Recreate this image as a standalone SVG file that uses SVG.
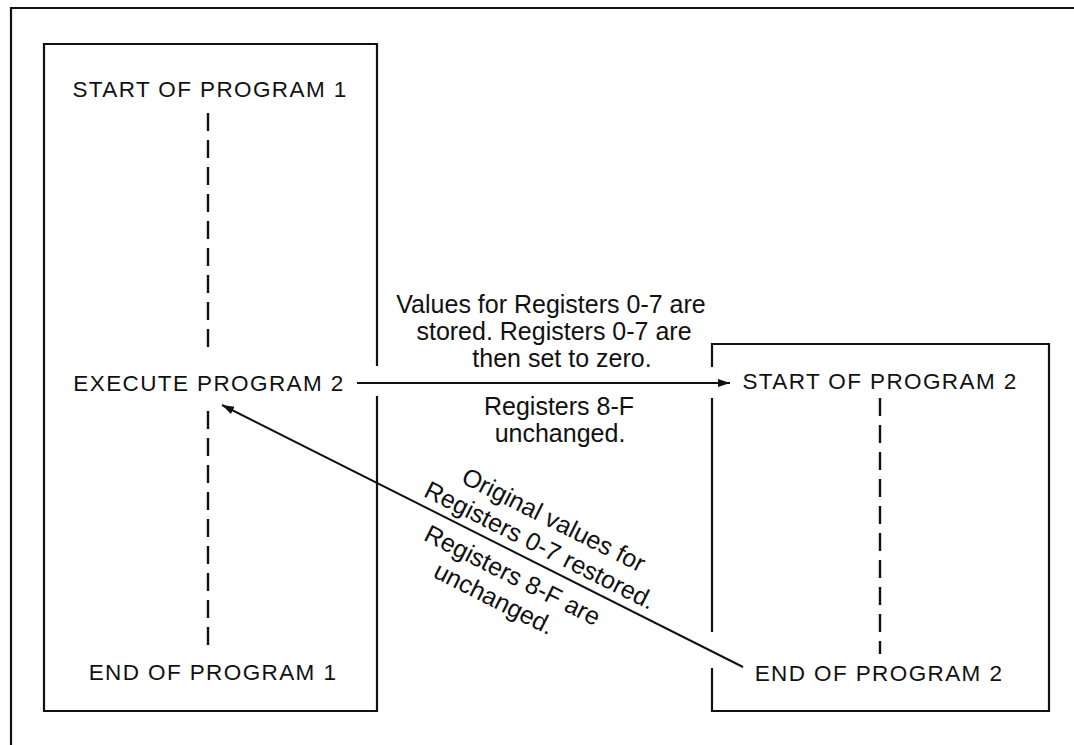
<svg xmlns="http://www.w3.org/2000/svg" width="1074" height="745" viewBox="0 0 1074 745">
<style>
.frame{fill:none;stroke:#111;stroke-width:2.2}
.dash{fill:none;stroke:#111;stroke-width:2.4;stroke-dasharray:18 9}
.node{font-family:"Liberation Sans",Arial,sans-serif;font-size:22.5px;letter-spacing:1.4px;fill:#111;text-anchor:middle}
.lbl{font-family:"Liberation Sans",Arial,sans-serif;font-size:25px;fill:#111;text-anchor:middle}
.conn{fill:none;stroke:#111;stroke-width:2}
</style>
<defs>
<marker id="ah" markerUnits="userSpaceOnUse" markerWidth="14" markerHeight="10" refX="12" refY="4" orient="auto">
<path d="M0,0 L12,4 L0,8 Z" fill="#111"/>
</marker>
</defs>
<rect width="1074" height="745" fill="#fff"/>
<path class="frame" d="M11,745 V8 H1074"/>
<g id="program1">
<path class="frame" d="M377,366 V44 H44 V711 H377 V396"/>
<text class="node" x="210" y="97">START OF PROGRAM 1</text>
<path class="dash" d="M208,113 V355"/>
<text class="node" x="209" y="391">EXECUTE PROGRAM 2</text>
<path class="dash" d="M208,411 V654"/>
<text class="node" x="213" y="680">END OF PROGRAM 1</text>
</g>
<g id="program2">
<path class="frame" d="M712,367 V344 H1049 V711 H712 V668"/>
<path class="frame" d="M712,398 V632"/>
<text class="node" x="880" y="389">START OF PROGRAM 2</text>
<path class="dash" d="M880,398 V654"/>
<text class="node" x="879" y="681">END OF PROGRAM 2</text>
</g>
<g id="connectors">
<path class="conn" d="M357,383 H730" marker-end="url(#ah)"/>
<path class="conn" d="M743,667 L222,405" marker-end="url(#ah)"/>
</g>
<g id="labels">
<text class="lbl" x="551" y="313">Values for Registers 0-7 are</text>
<text class="lbl" x="554" y="340">stored. Registers 0-7 are</text>
<text class="lbl" x="562" y="367">then set to zero.</text>
<text class="lbl" x="559" y="415">Registers 8-F</text>
<text class="lbl" x="560" y="442">unchanged.</text>
<g transform="translate(222,405) rotate(26.7)">
<text class="lbl" x="348" y="-38">Original values for</text>
<text class="lbl" x="347" y="-9">Registers 0-7 restored.</text>
<text class="lbl" x="336" y="30">Registers 8-F are</text>
<text class="lbl" x="330" y="59">unchanged.</text>
</g>
</g>
</svg>
